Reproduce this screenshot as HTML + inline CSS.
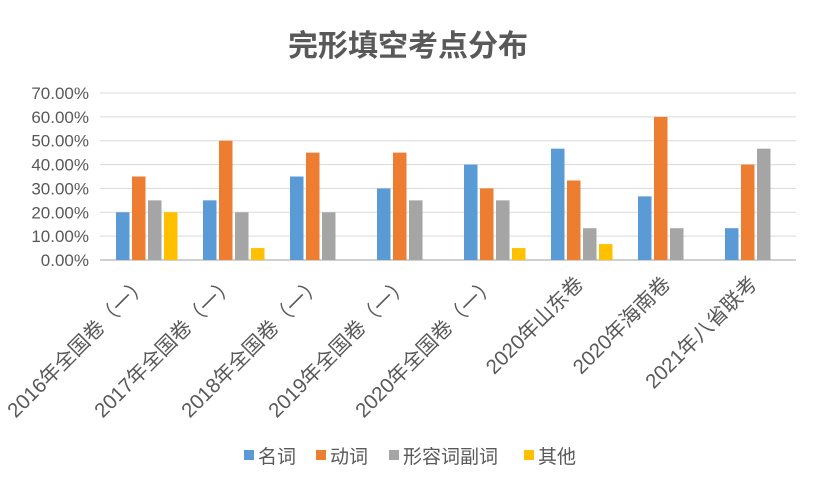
<!DOCTYPE html>
<html><head><meta charset="utf-8">
<style>
body{margin:0;background:#fff;}
svg{display:block;font-family:"Liberation Sans","Noto Sans CJK SC",sans-serif;}
</style></head>
<body>
<svg id="chart" width="816" height="483" viewBox="0 0 816 483" xmlns="http://www.w3.org/2000/svg">
<text x="408" y="56" text-anchor="middle" font-size="30" font-weight="bold" fill="#595959">完形填空考点分布</text>
<g id="grid"></g><g id="bars"></g><g id="xlabels"></g><g id="ylabels"></g>
<g id="legend"></g>
</svg>
<script>
const categories=["2016年全国卷（一）","2017年全国卷（一）","2018年全国卷（一）","2019年全国卷（一）","2020年全国卷（一）","2020年山东卷","2020年海南卷","2021年八省联考"];
const seriesNames=["名词","动词","形容词副词","其他"];
const nounVals=[20,25,35,30,40,46.67,26.67,13.33];
const verbVals=[35,50,45,45,30,33.33,60,40];
const adjVals=[25,20,20,25,25,13.33,13.33,46.67];
const otherVals=[20,5,0,0,5,6.67,0,0];
const yTicks=[0,10,20,30,40,50,60,70];
const colors=["#5b9bd5","#ed7d31","#a5a5a5","#ffc000"];
const series=[nounVals,verbVals,adjVals,otherVals];
const NS="http://www.w3.org/2000/svg";
const x0=100,x1=796,y0=260,yTop=93;
const yScale=v=>y0-(v/70)*(y0-yTop);
const bw=(x1-x0)/categories.length;
const xCat=i=>x0+i*bw;
function mk(t,a,p){const e=document.createElementNS(NS,t);for(const k in a)e.setAttribute(k,a[k]);p.appendChild(e);return e;}
const grid=document.getElementById('grid'),yl=document.getElementById('ylabels');
yTicks.forEach(t=>{
 const l=mk('line',{x1:x0,x2:x1,y1:yScale(t),y2:yScale(t),stroke:t===0?'#d0d0d0':'#d9d9d9','stroke-width':t===0?2:1},grid);
 
 
 const tx=mk('text',{x:89,y:yScale(t)+6,'text-anchor':'end','font-size':17,fill:'#595959'},yl);
 tx.textContent=t.toFixed(2)+'%';
 
 
});
const bars=document.getElementById('bars');
const barW=13.5,gap=2.5;
categories.forEach((c,i)=>{
 series.forEach((s,j)=>{
  const v=s[i]; if(v<=0) return;
  const x=xCat(i)+16+j*(barW+gap);
  const r=mk('rect',{x:x,y:yScale(v),width:barW,height:y0-yScale(v),fill:colors[j]},bars);
  
  
 });
 const cx=xCat(i)+bw/2+6, cy=285;
 const t=mk('text',{x:cx,y:cy,'text-anchor':'end','font-size':20.5,fill:'#595959',transform:`rotate(-45 ${cx} ${cy})`},document.getElementById('xlabels'));
 t.textContent=c;
 
 
});
const lg=document.getElementById('legend');
const lx=[244,316,389,524];
seriesNames.forEach((n,j)=>{
 const r=mk('rect',{x:lx[j],y:450,width:10,height:10,fill:colors[j]},lg);
 
 
 const t=mk('text',{x:lx[j]+14,y:463,'font-size':19,fill:'#595959'},lg);
 t.textContent=n;
 
 
});
</script>
</body></html>
